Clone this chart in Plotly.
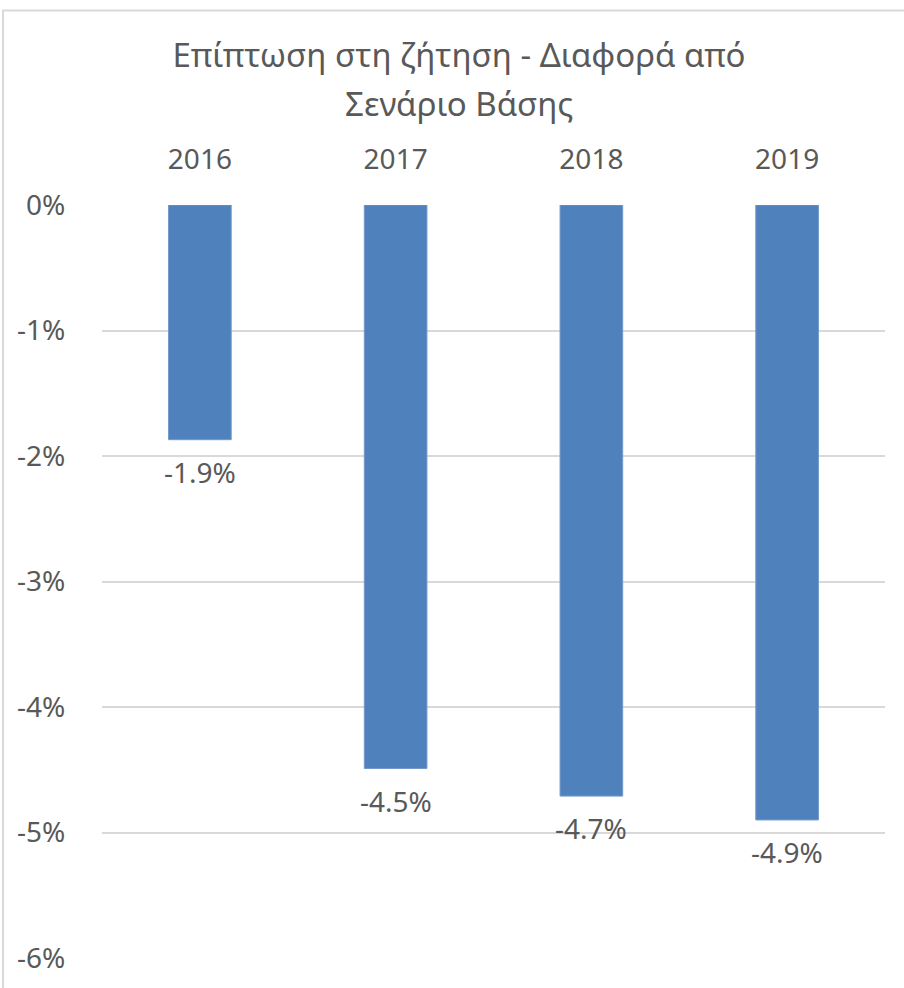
import plotly.graph_objects as go

years = ["2016", "2017", "2018", "2019"]
impact = [-0.0187, -0.0449, -0.0471, -0.0490]
labels = ["-1.9%", "-4.5%", "-4.7%", "-4.9%"]
y_ticks = [0, -0.01, -0.02, -0.03, -0.04, -0.05, -0.06]
y_tick_text = ["0%", "-1%", "-2%", "-3%", "-4%", "-5%", "-6%"]

title_line1 = "Επίπτωση στη ζήτηση - Διαφορά από"
title_line2 = "Σενάριο Βάσης"

W, H = 904, 988
ml, mr, mt, mb = 102, 19, 205, 28
pw, ph = W - ml - mr, H - mt - mb

grey = "#595959"
font = "Noto Sans"

fig = go.Figure()

fig.add_trace(go.Bar(
    x=years, y=impact,
    marker=dict(color="#4f81bd", line=dict(color="#7398cb", width=1)),
    width=0.32, hoverinfo="skip",
))

# data labels just under each bar end (category index on the x axis)
for i, (v, lab) in enumerate(zip(impact, labels)):
    fig.add_annotation(x=i, y=v, text=lab, showarrow=False,
                       yanchor="middle", yshift=-32,
                       font=dict(size=28, color=grey, family=font))

# chart area border (only left and top visible in the crop)
fig.add_shape(type="rect", xref="paper", yref="paper",
              x0=(3 - ml) / pw, x1=(W + 10 - ml) / pw,
              y0=-(mb + 10) / ph, y1=1 + (mt - 10) / ph,
              line=dict(color="#d9d9d9", width=2), fillcolor="rgba(0,0,0,0)", layer="below")

fig.add_annotation(text=title_line2, xref="paper", yref="paper",
                   x=(459 - ml) / pw, y=1 + (mt - 103) / ph, showarrow=False,
                   xanchor="center", yanchor="middle",
                   font=dict(size=33, color=grey, family=font))

fig.update_layout(
    width=W, height=H,
    margin=dict(l=ml, r=mr, t=mt, b=mb),
    paper_bgcolor="white", plot_bgcolor="white",
    showlegend=False,
    title=dict(text=title_line1, x=459 / W, xref="container", xanchor="center",
               y=1 - 55 / H, yref="container", yanchor="middle",
               font=dict(size=33, color=grey, family=font)),
    xaxis=dict(type="category", side="top", showgrid=False, showline=False, zeroline=False,
               ticks="outside", ticklen=24, tickcolor="rgba(0,0,0,0)",
               tickfont=dict(size=28, color=grey, family=font)),
    yaxis=dict(range=[-0.06, 0], tickvals=y_ticks, ticktext=y_tick_text,
               showgrid=True, gridcolor="#d9d9d9", gridwidth=2,
               zeroline=False, showline=False,
               ticks="outside", ticklen=30, tickcolor="rgba(0,0,0,0)",
               tickfont=dict(size=28, color=grey, family=font)),
)

# page body has a default 8px margin; drop it so the figure sits at the window corner
fig.write_html("out.html", config={"displayModeBar": False},
               post_script="document.body.style.margin='0';")
